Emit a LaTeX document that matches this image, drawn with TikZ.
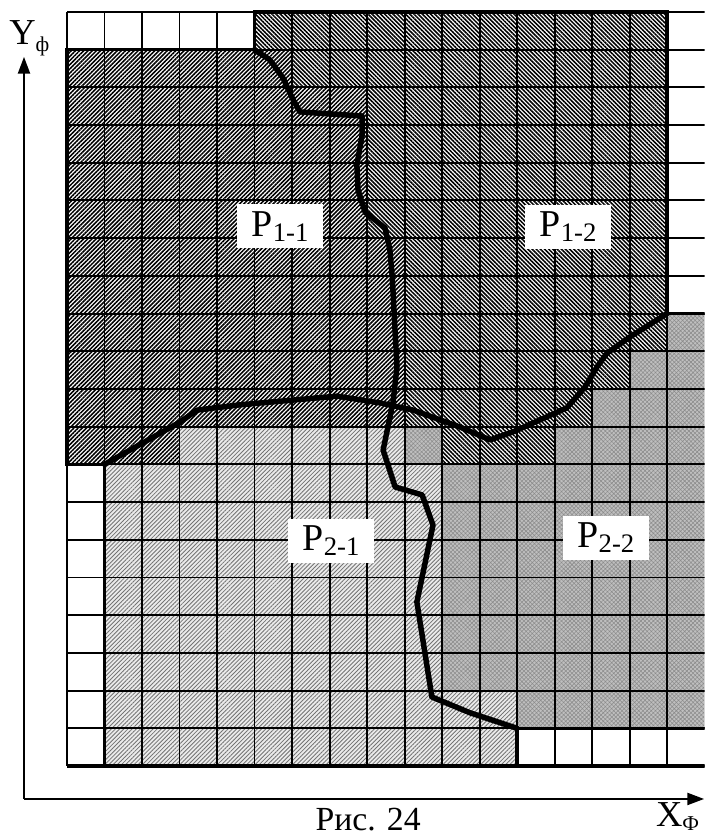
\documentclass[tikz,border=0pt]{standalone}
\usepackage{fontspec}
\setmainfont{Liberation Serif}
\usetikzlibrary{patterns.meta,arrows.meta}

% lettre, indice, taille de l'indice, abaissement
\newcommand{\etiq}[4]{#1\raisebox{-#4}{\fontsize{#3}{#3}\selectfont #2}}

\begin{document}
\begin{tikzpicture}[x=0.9375cm,y=0.9425cm]
\tikzset{grille/.style={line width=1.4pt},
  bord/.style={line width=2.4pt},
  frontiere/.style={line width=3.9pt, line join=round, line cap=round},
  axe/.style={line width=1.5pt, -{Triangle[length=0.42cm,width=0.3cm]}},
  zone11/.style={pattern={Lines[angle=45,distance=2.1pt,line width=1.1pt]}},
  zone12/.style={pattern={Lines[angle=-45,distance=2.1pt,line width=1.1pt]}},
  zone21/.style={preaction={fill=black!8}, pattern={Lines[angle=45,distance=2.1pt,line width=0.6pt]}, pattern color=black!55},
  zone22/.style={preaction={fill=black!25}, pattern={Hatch[angle=45,distance=2.1pt,line width=0.4pt]}, pattern color=black!45},
  etiquette/.style={fill=white, inner sep=0pt, minimum width=2.15cm, minimum height=1.1cm, font=\fontsize{27}{27}\selectfont},
  legende/.style={inner sep=0pt, font=\fontsize{26}{26}\selectfont}}
\useasboundingbox (-1.787,-1.857) rectangle (17,20.318);
\clip (-1.787,-1.857) rectangle (17,20.318);
% zones
\fill[zone11] (0,8) -| (3,9) -| (9,14) -| (8,18) -| (6,19) -| (0,8) -- cycle;
\fill[zone12] (5,20) -- (16,20) -- (16,11) -- (15,11) -- (15,10) -- (14,10) -- (14,9) -- (13,9) -- (13,8) -- (10,8) -- (10,9) -- (9,9) -- (9,14) -- (8,14) -- (8,18) -- (6,18) -- (6,19) -- (5,19) -- cycle;
\fill[zone21] (1,0) -- (12,0) -- (12,2) -- (10,2) -- (10,8) -- (9,8) -- (9,9) -- (3,9) -- (3,8) -- (1,8) -- cycle;
\fill[zone22] (10,2) -- (12,2) -- (12,1) -- (17,1) -- (17,12) -- (16,12) -- (16,11) -- (15,11) -- (15,10) -- (14,10) -- (14,9) -- (13,9) -- (13,8) -- (10,8) -- cycle;
\fill[zone22] (9,8) rectangle (10,9);
% grille
\foreach \i in {0,...,16}
  \draw[grille] (\i,0) -- (\i,20);
\foreach \j in {0,...,20}
  \draw[grille] (0,\j) -- (17,\j);
\draw[bord] (17,1) -- (12,1) -- (12,0) -- (1,0) -- (1,8) -- (0,8) -- (0,19) -- (5,19) -- (5,20) -- (16,20) -- (16,12) -- (17,12);
\draw[bord] (0,0) -- (17,0);
% frontieres
\draw[frontiere] (5,19) -- (5.41,18.73) -- (5.76,18.25) -- (6.03,17.67) -- (6.21,17.35) -- (7.87,17.24) -- (7.87,16.74) -- (7.73,15.94) -- (7.76,15.28) -- (7.95,14.69) -- (8.48,14.27) -- (8.61,13.69) -- (8.67,13.02) -- (8.80,10.58) -- (8.69,9.63) -- (8.43,8.38) -- (8.75,7.40) -- (9.47,7.19) -- (9.76,6.39) -- (9.33,4.35) -- (9.73,1.83) -- (10.75,1.41) -- (12,1);
\draw[frontiere] (1,8) -- (3.01,9.12) -- (3.47,9.44) -- (4.61,9.58) -- (7.2,9.81) -- (8.35,9.63) -- (9.23,9.44) -- (10.48,8.99) -- (11.28,8.65) -- (11.89,8.86) -- (13.33,9.50) -- (13.81,10.05) -- (14.13,10.58) -- (14.4,10.95) -- (15.01,11.38) -- (16,12);
% etiquettes
\node[etiquette] (P11) at (5.68,14.32) {\etiq{P}{1-1}{19}{3.5pt}};
\node[etiquette] (P12) at (13.36,14.30) {\etiq{P}{1-2}{19}{3.5pt}};
\node[etiquette] (P21) at (7.04,5.97) {\etiq{P}{2-1}{19}{3.5pt}};
\node[etiquette] (P22) at (14.37,6.05) {\etiq{P}{2-2}{19}{3.5pt}};
% axes
\coordinate (O) at (-1.147,-0.875);
\coordinate (Yfin) at (-1.147,18.81);
\coordinate (Xfin) at (16.99,-0.875);
\draw[axe] (O) -- (Yfin);
\draw[axe] (O) -- (Xfin);
\node[legende, anchor=base west] (Ylab) at (-1.547,19.125) {\etiq{Y}{ф}{15}{5pt}};
\node[legende, anchor=base west] (Xlab) at (15.70,-1.60) {\etiq{X}{Ф}{15}{3pt}};
\node[legende, anchor=base, font=\fontsize{24}{24}\selectfont] (titre) at (8.03,-1.72) {Рис. 24};
\end{tikzpicture}
\end{document}
